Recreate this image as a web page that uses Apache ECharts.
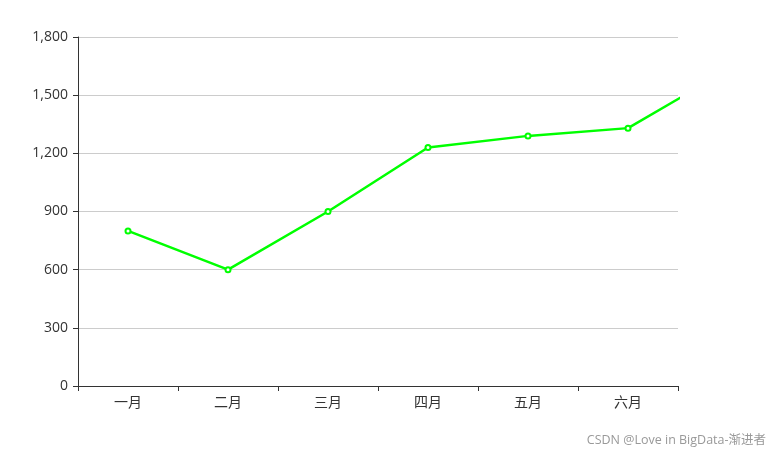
<!DOCTYPE html>
<html>
<head>
<meta charset="utf-8">
<script src="https://cdn.jsdelivr.net/npm/echarts@6/dist/echarts.min.js"></script>
<style>html,body{margin:0;padding:0;background:#fff;}#c{width:781px;height:459px;}</style>
</head>
<body>
<div id="c"></div>
<script>
const categories = ['一月', '二月', '三月', '四月', '五月', '六月'];
const values = [800, 600, 900, 1230, 1290, 1330, 1630];
const yTicks = { min: 0, max: 1800, interval: 300 };
const watermark = 'CSDN @Love in BigData-渐进者';

const chart = echarts.init(document.getElementById('c'));
chart.setOption({
  animation: false,
  textStyle: { fontFamily: '"Open Sans", "Noto Sans CJK SC", sans-serif' },
  grid: { left: 78, right: 103, top: 37, bottom: 73 },
  xAxis: {
    type: 'category',
    data: categories,
    max: categories.length - 1,
    axisLine: { lineStyle: { color: '#333' } },
    axisTick: { show: true, lineStyle: { color: '#333' } },
    axisLabel: { color: '#333', fontSize: 14, margin: 10 }
  },
  yAxis: {
    type: 'value',
    min: yTicks.min, max: yTicks.max, interval: yTicks.interval,
    axisLine: { show: true, lineStyle: { color: '#333' } },
    axisTick: { show: true, lineStyle: { color: '#333' } },
    axisLabel: { color: '#333', fontSize: 14, margin: 10 },
    splitLine: { lineStyle: { color: '#ccc' } }
  },
  series: [{
    type: 'line',
    data: values,
    clip: true,
    symbol: 'emptyCircle',
    symbolSize: 5,
    lineStyle: { color: '#00ff00', width: 2.5 },
    itemStyle: { color: '#00ff00' }
  }],
  graphic: [{
    type: 'text',
    right: 15,
    bottom: 12,
    style: { text: watermark, fill: '#999', fontSize: 12.5, fontFamily: '"Open Sans", "Noto Sans CJK SC", sans-serif' }
  }]
});
</script>
</body>
</html>
